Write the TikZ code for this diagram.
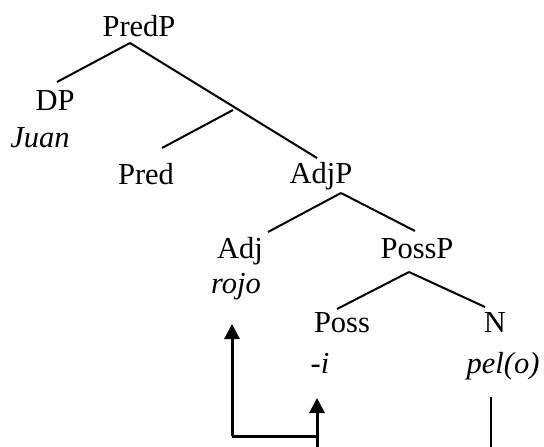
\documentclass[tikz,border=0pt]{standalone}
\usepackage{fontspec}
\setmainfont{Liberation Serif}
\usetikzlibrary{arrows.meta}
\begin{document}
\begin{tikzpicture}[x=1pt,y=-1pt,
  lbl/.style={anchor=base,inner sep=0pt,font=\fontsize{30.5}{36}\selectfont},
  word/.style={lbl,font=\fontsize{30.5}{36}\selectfont\itshape},
  branch/.style={line width=2pt},
  move/.style={line width=3pt,-{Triangle[length=15pt,width=15pt]}},
  trace/.style={line width=3pt}]
\useasboundingbox (0,0) rectangle (544,447);
% category labels and words
\node[lbl]  (predp) at (139,36)  {PredP};
\node[lbl]  (dp)    at (55,110)  {DP};
\node[word] (juan)  at (40,147)  {Juan};
\node[lbl]  (pred)  at (146,184) {Pred};
\node[lbl]  (adjp)  at (321,183) {AdjP};
\node[lbl]  (adj)   at (240,258) {Adj};
\node[word] (rojo)  at (236,293) {rojo};
\node[lbl]  (possp) at (417,258) {PossP};
\node[lbl]  (poss)  at (342,332) {Poss};
\node[lbl]  (n)     at (495,332) {N};
\node[word] (affix) at (320,373) {-i};
\node[word] (pelo)  at (503,373) {pel(o)};
% attachment points of the branches
\coordinate (predp-b) at (130,43);
\coordinate (dp-t)    at (57,82);
\coordinate (bar-b)   at (233,110);
\coordinate (pred-t)  at (162,148);
\coordinate (adjp-t)  at (317,158);
\coordinate (adjp-b)  at (341,193);
\coordinate (adj-t)   at (268,232);
\coordinate (possp-t) at (415,231);
\coordinate (possp-b) at (409,272);
\coordinate (poss-t)  at (337,309);
\coordinate (n-t)     at (485,307);
% tree branches
\draw[branch] (predp-b) -- (dp-t);
\draw[branch] (predp-b) -- (adjp-t);
\draw[branch] (bar-b) -- (pred-t);
\draw[branch] (adjp-b) -- (adj-t);
\draw[branch] (adjp-b) -- (possp-t);
\draw[branch] (possp-b) -- (poss-t);
\draw[branch] (possp-b) -- (n-t);
% head movement
\coordinate (rojo-in)  at (232,324);
\coordinate (affix-in) at (317,398);
\coordinate (corner)   at (232,436);
\coordinate (join)     at (317,436);
\coordinate (low-a)    at (317,448);
\coordinate (pelo-out) at (491,397);
\coordinate (low-b)    at (491,448);
\draw[trace] (corner) -- (join);
\draw[move] (corner) -- (rojo-in);
\draw[move] (low-a) -- (affix-in);
\draw[branch] (pelo-out) -- (low-b);
\end{tikzpicture}
\end{document}
